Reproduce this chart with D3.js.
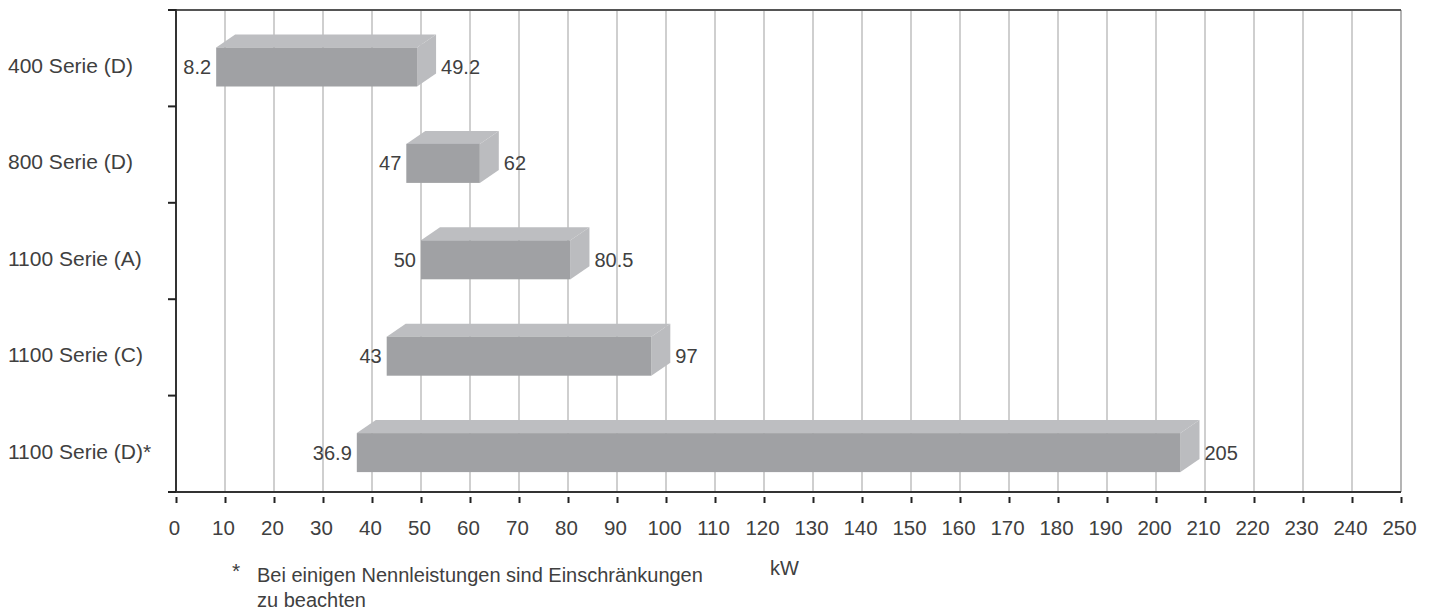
<!DOCTYPE html>
<html>
<head>
<meta charset="utf-8">
<script src="https://cdn.jsdelivr.net/npm/d3@7"></script>
<style>
  body { margin: 0; background: #fff; }
  svg text { font-family: "Liberation Sans", Arial, sans-serif; fill: #404040; }
</style>
</head>
<body>
<div id="chart"></div>
<script>
var series = ["400 Serie (D)", "800 Serie (D)", "1100 Serie (A)", "1100 Serie (C)", "1100 Serie (D)*"];
var minKw = [8.2, 47, 50, 43, 36.9];
var maxKw = [49.2, 62, 80.5, 97, 205];
var minLabels = ["8.2", "47", "50", "43", "36.9"];
var maxLabels = ["49.2", "62", "80.5", "97", "205"];
var xTicks = d3.range(0, 251, 10);

var width = 1433, height = 612;
var margin = { top: 10, left: 176, right: 32, bottom: 120 };

var svg = d3.select("#chart").append("svg")
  .attr("width", width)
  .attr("height", height);

var x = d3.scaleLinear().domain([0, 250]).range([margin.left, width - margin.right]);
var y = d3.scaleBand().domain(series).range([margin.top, height - margin.bottom]).paddingInner(0);

var plotTop = margin.top, plotBottom = height - margin.bottom;

// grid
svg.append("g").selectAll("line")
  .data(xTicks.filter(function(t) { return t > 0; }))
  .enter().append("line")
  .attr("x1", function(d) { return x(d); })
  .attr("x2", function(d) { return x(d); })
  .attr("y1", plotTop)
  .attr("y2", plotBottom)
  .attr("stroke", function(d) { return d === 250 ? "#777" : "#a8a8a8"; })
  .attr("stroke-width", 1.1);

// frame lines
svg.append("line").attr("x1", x(0)).attr("x2", x(250)).attr("y1", plotTop).attr("y2", plotTop)
  .attr("stroke", "#555").attr("stroke-width", 2);
svg.append("line").attr("x1", x(0)).attr("x2", x(250)).attr("y1", plotBottom).attr("y2", plotBottom)
  .attr("stroke", "#333").attr("stroke-width", 2);
svg.append("line").attr("x1", x(0)).attr("x2", x(0)).attr("y1", plotTop - 1).attr("y2", plotBottom + 1)
  .attr("stroke", "#333").attr("stroke-width", 2);

// y ticks on band edges
var edges = series.map(function(s) { return y(s); }).concat([plotBottom]);
svg.append("g").selectAll("line")
  .data(edges)
  .enter().append("line")
  .attr("x1", x(0) - 8)
  .attr("x2", x(0))
  .attr("y1", function(d) { return d; })
  .attr("y2", function(d) { return d; })
  .attr("stroke", "#222")
  .attr("stroke-width", 2);

// x axis (ticks + labels)
var xAxis = d3.axisBottom(x).tickValues(xTicks).tickSize(6).tickPadding(17).tickFormat(d3.format("d"));
var gx = svg.append("g").attr("transform", "translate(0," + (plotBottom + 5) + ")").call(xAxis);
gx.select(".domain").remove();
gx.selectAll(".tick line").attr("stroke", "#222").attr("stroke-width", 2);
gx.selectAll(".tick text").attr("font-size", 20.5).attr("fill", "#404040").attr("dx", -2)
  .style("font-family", "Liberation Sans, Arial, sans-serif");

// category labels
var faceOff = 37.5, faceH = 39, dx = 19, dy = 13;
svg.append("g").selectAll("text")
  .data(series)
  .enter().append("text")
  .attr("x", 8)
  .attr("y", function(d) { return y(d) + faceOff + faceH / 2 + 6; })
  .attr("font-size", 21)
  .attr("fill", "#2a2a2a")
  .text(function(d) { return d; });

// 3D bars
var bars = svg.append("g").selectAll("g")
  .data(series)
  .enter().append("g");

bars.append("path")
  .attr("fill", "#bdbec1")
  .attr("d", function(d, i) {
    var x0 = x(minKw[i]), x1 = x(maxKw[i]), fy = y(d) + faceOff;
    return "M" + x0 + "," + fy + "L" + (x0 + dx) + "," + (fy - dy) + "L" + (x1 + dx) + "," + (fy - dy) + "L" + x1 + "," + fy + "Z";
  });

bars.append("path")
  .attr("fill", "#bbbcbf")
  .attr("d", function(d, i) {
    var x1 = x(maxKw[i]), fy = y(d) + faceOff;
    return "M" + x1 + "," + fy + "L" + (x1 + dx) + "," + (fy - dy) + "L" + (x1 + dx) + "," + (fy + faceH - dy) + "L" + x1 + "," + (fy + faceH) + "Z";
  });

bars.append("rect")
  .attr("fill", "#a0a1a4")
  .attr("x", function(d, i) { return x(minKw[i]); })
  .attr("y", function(d) { return y(d) + faceOff; })
  .attr("width", function(d, i) { return x(maxKw[i]) - x(minKw[i]); })
  .attr("height", faceH);

// value labels
bars.append("text")
  .attr("x", function(d, i) { return x(minKw[i]) - 5; })
  .attr("y", function(d) { return y(d) + faceOff + faceH / 2 + 7; })
  .attr("text-anchor", "end")
  .attr("font-size", 20)
  .text(function(d, i) { return minLabels[i]; });

bars.append("text")
  .attr("x", function(d, i) { return x(maxKw[i]) + dx + 5; })
  .attr("y", function(d) { return y(d) + faceOff + faceH / 2 + 7; })
  .attr("font-size", 20)
  .text(function(d, i) { return maxLabels[i]; });

// unit + footnote
svg.append("text").attr("x", 770).attr("y", 575).attr("font-size", 20).text("kW");
svg.append("text").attr("x", 232).attr("y", 578).attr("font-size", 21).attr("fill", "#222").text("*");
svg.append("text").attr("x", 257).attr("y", 582).attr("font-size", 20)
  .text("Bei einigen Nennleistungen sind Einschränkungen");
svg.append("text").attr("x", 257).attr("y", 607).attr("font-size", 20).text("zu beachten");
</script>
</body>
</html>
